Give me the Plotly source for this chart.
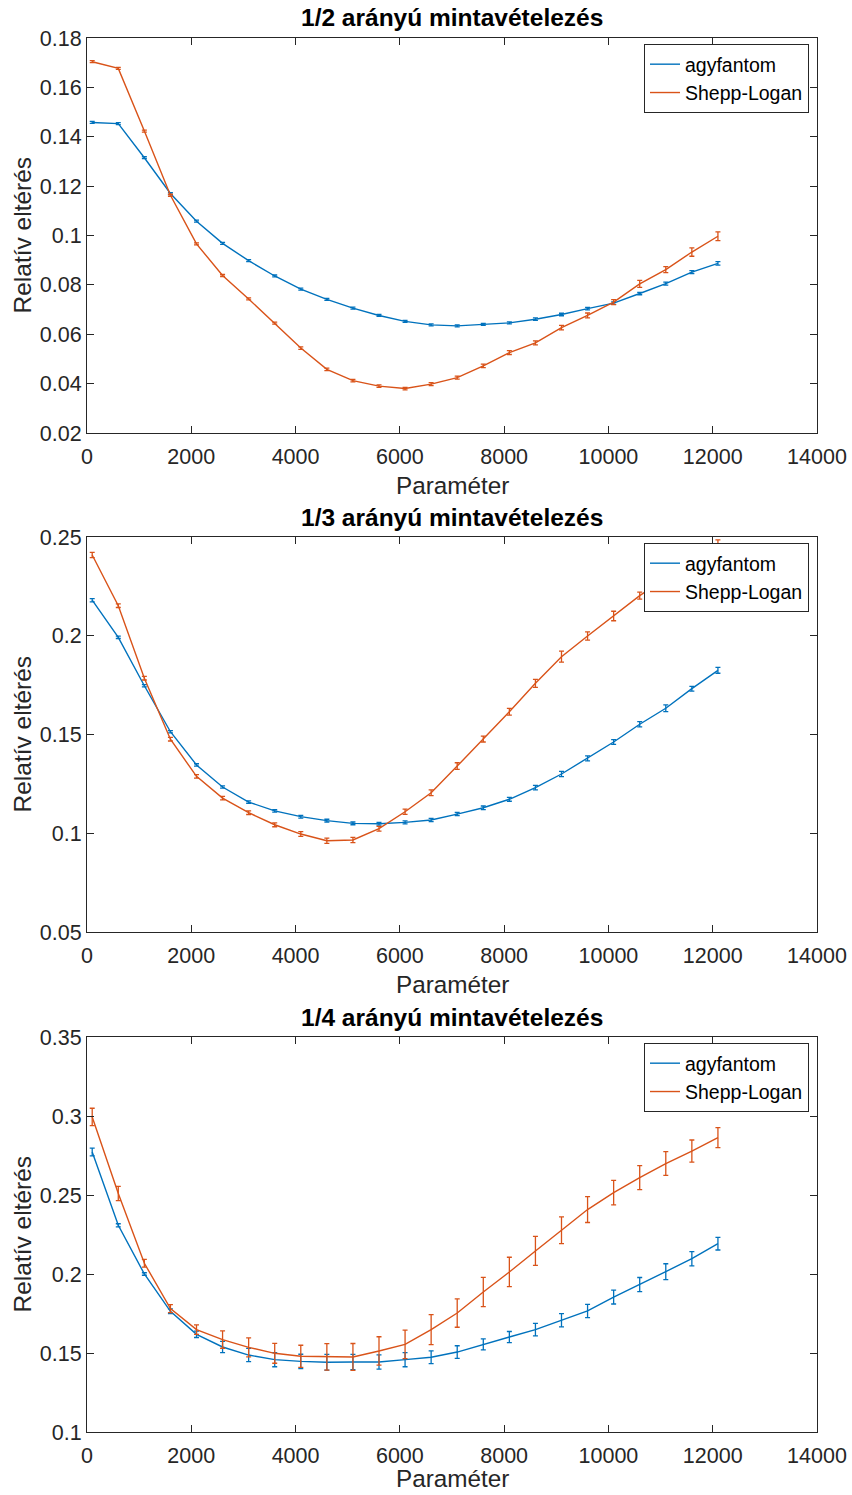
import plotly.graph_objects as go

# ---------------- data ----------------
param = [100, 600, 1100, 1600, 2100, 2600, 3100, 3600, 4100, 4600, 5100, 5600, 6100,
         6600, 7100, 7600, 8100, 8600, 9100, 9600, 10100, 10600, 11100, 11600, 12100]

# 1/2 sampling
agy_half = [0.1458, 0.1453, 0.1315, 0.1170, 0.1058, 0.0968, 0.0898, 0.0836, 0.0783, 0.0741,
            0.0706, 0.0676, 0.0652, 0.0638, 0.0634, 0.0640, 0.0646, 0.0661, 0.0680, 0.0704,
            0.0726, 0.0765, 0.0805, 0.0852, 0.0887]
agy_half_err = [0.0004, 0.0004, 0.0004, 0.0004, 0.0004, 0.0004, 0.0004, 0.0004, 0.0004, 0.0004,
                0.0004, 0.0004, 0.0004, 0.0004, 0.0004, 0.0004, 0.0004, 0.0005, 0.0005, 0.0005,
                0.0005, 0.0005, 0.0006, 0.0006, 0.0007]
shepp_half = [0.1704, 0.1677, 0.1423, 0.1163, 0.0966, 0.0838, 0.0743, 0.0645, 0.0544, 0.0458,
              0.0412, 0.0390, 0.0380, 0.0398, 0.0424, 0.0472, 0.0526, 0.0565, 0.0627, 0.0676,
              0.0730, 0.0804, 0.0862, 0.0933, 0.0997]
shepp_half_err = [0.0004, 0.0004, 0.0004, 0.0004, 0.0004, 0.0004, 0.0004, 0.0004, 0.0005, 0.0005,
                  0.0005, 0.0005, 0.0005, 0.0006, 0.0006, 0.0007, 0.0008, 0.0008, 0.0009, 0.0010,
                  0.0010, 0.0014, 0.0012, 0.0017, 0.0018]

# 1/3 sampling
agy_third = [0.2180, 0.1992, 0.1747, 0.1514, 0.1346, 0.1234, 0.1158, 0.1113, 0.1084, 0.1064,
             0.1050, 0.1048, 0.1055, 0.1067, 0.1097, 0.1129, 0.1172, 0.1231, 0.1300, 0.1379,
             0.1462, 0.1552, 0.1633, 0.1732, 0.1825]
agy_third_err = [0.0008, 0.0006, 0.0006, 0.0006, 0.0006, 0.0006, 0.0006, 0.0006, 0.0007, 0.0007,
                 0.0007, 0.0007, 0.0008, 0.0008, 0.0008, 0.0009, 0.0010, 0.0011, 0.0013, 0.0013,
                 0.0012, 0.0013, 0.0017, 0.0012, 0.0015]
shepp_third = [0.2409, 0.2152, 0.1785, 0.1476, 0.1288, 0.1178, 0.1104, 0.1043, 0.0996, 0.0962,
               0.0966, 0.1023, 0.1109, 0.1205, 0.1340, 0.1477, 0.1615, 0.1759, 0.1894, 0.1999,
               0.2100, 0.2203, 0.2292, 0.2380, 0.2465]
shepp_third_err = [0.0013, 0.0009, 0.0009, 0.0009, 0.0009, 0.0009, 0.0009, 0.0010, 0.0012, 0.0013,
                   0.0013, 0.0012, 0.0013, 0.0015, 0.0017, 0.0015, 0.0017, 0.0020, 0.0028, 0.0021,
                   0.0024, 0.0018, 0.0020, 0.0020, 0.0020]

# 1/4 sampling
agy_quarter = [0.2772, 0.2308, 0.2000, 0.1764, 0.1618, 0.1538, 0.1487, 0.1458, 0.1447, 0.1441,
               0.1443, 0.1443, 0.1458, 0.1473, 0.1506, 0.1555, 0.1601, 0.1648, 0.1707, 0.1766,
               0.1854, 0.1933, 0.2015, 0.2097, 0.2192]
agy_quarter_err = [0.0025, 0.0010, 0.0008, 0.0015, 0.0020, 0.0035, 0.0042, 0.0045, 0.0045, 0.0050,
                   0.0048, 0.0045, 0.0045, 0.0040, 0.0040, 0.0035, 0.0035, 0.0040, 0.0042, 0.0042,
                   0.0044, 0.0045, 0.0050, 0.0045, 0.0040]
shepp_quarter = [0.2994, 0.2509, 0.2068, 0.1781, 0.1648, 0.1585, 0.1536, 0.1498, 0.1479, 0.1475,
                 0.1475, 0.1513, 0.1555, 0.1648, 0.1753, 0.1886, 0.2013, 0.2146, 0.2277, 0.2408,
                 0.2515, 0.2610, 0.2699, 0.2778, 0.2863]
shepp_quarter_err = [0.0055, 0.0045, 0.0025, 0.0025, 0.0030, 0.0055, 0.0060, 0.0063, 0.0070, 0.0084,
                     0.0085, 0.0090, 0.0090, 0.0095, 0.0090, 0.0093, 0.0093, 0.0092, 0.0085, 0.0082,
                     0.0077, 0.0076, 0.0075, 0.0070, 0.0063]

titles = ["1/2 arányú mintavételezés", "1/3 arányú mintavételezés", "1/4 arányú mintavételezés"]
series_names = ["agyfantom", "Shepp-Logan"]
y_ranges = [[0.02, 0.18], [0.05, 0.25], [0.1, 0.35]]
y_dticks = [0.02, 0.05, 0.05]
x_label = "Paraméter"
y_label = "Relatív eltérés"

panels = [
    (agy_half, agy_half_err, shepp_half, shepp_half_err),
    (agy_third, agy_third_err, shepp_third, shepp_third_err),
    (agy_quarter, agy_quarter_err, shepp_quarter, shepp_quarter_err),
]

# ---------------- layout geometry ----------------
W, H = 852, 1495
BLUE = "#0072BD"
ORANGE = "#D95319"
AX = "#262626"
FONT = "Liberation Sans, Arial, Helvetica, sans-serif"

x_left, x_right = 87, 817
tops = [38, 537, 1037]
bottoms = [433, 932, 1432]
xlabel_centers = [485, 984, 1478]

fig = go.Figure()
annotations = []

for i, (a, ae, s, se) in enumerate(panels):
    n = "" if i == 0 else str(i + 1)
    xa, ya = "x" + n, "y" + n
    leg = "legend" + n
    for vals, errs, color, name in [(a, ae, BLUE, series_names[0]), (s, se, ORANGE, series_names[1])]:
        fig.add_trace(go.Scatter(
            x=param, y=vals, mode="lines", name=name,
            line=dict(color=color, width=1.4),
            error_y=dict(type="data", array=errs, visible=True, color=color,
                         thickness=1.3, width=2.5),
            xaxis=xa, yaxis=ya, legend=leg, cliponaxis=True,
        ))
    dom_y = [1 - bottoms[i] / H, 1 - tops[i] / H]
    axis_common = dict(showline=True, linecolor=AX, linewidth=1, mirror="ticks",
                       ticks="inside", ticklen=7, tickwidth=1, tickcolor=AX,
                       showgrid=False, zeroline=False, automargin=False,
                       tickfont=dict(family=FONT, size=21.5, color=AX))
    fig.update_layout(**{
        ("xaxis" + n): dict(domain=[x_left / W, x_right / W], range=[0, 14000],
                            tick0=0, dtick=2000, tickformat="d", anchor=ya,
                            ticklabelstandoff=4, **axis_common),
        ("yaxis" + n): dict(domain=dom_y, range=y_ranges[i], tick0=y_ranges[i][0],
                            dtick=y_dticks[i], anchor=xa, **axis_common),
        leg: dict(x=809 / W, y=1 - (tops[i] + 6) / H, xanchor="right", yanchor="top",
                  xref="paper", yref="paper",
                  bgcolor="white", bordercolor=AX, borderwidth=1,
                  font=dict(family=FONT, size=19.5, color="black"),
                  itemwidth=30, tracegroupgap=0),
    })
    # title
    annotations.append(dict(text="<b>" + titles[i] + "</b>", x=(x_left + x_right) / 2 / W,
                            y=1 - (tops[i] - 20) / H, xref="paper", yref="paper",
                            xanchor="center", yanchor="middle", showarrow=False,
                            font=dict(family=FONT, size=24.5, color="black")))
    # x label
    annotations.append(dict(text=x_label, x=(x_left + x_right) / 2 / W,
                            y=1 - xlabel_centers[i] / H, xref="paper", yref="paper",
                            xanchor="center", yanchor="middle", showarrow=False,
                            font=dict(family=FONT, size=24.3, color=AX)))
    # y label
    annotations.append(dict(text=y_label, x=22 / W,
                            y=1 - (tops[i] + bottoms[i]) / 2 / H, xref="paper", yref="paper",
                            xanchor="center", yanchor="middle", showarrow=False, textangle=-90,
                            font=dict(family=FONT, size=24.5, color=AX)))

fig.update_layout(width=W, height=H, margin=dict(l=0, r=0, t=0, b=0, autoexpand=False),
                  paper_bgcolor="white", plot_bgcolor="white",
                  showlegend=True, annotations=annotations)

fig.write_html("out.html")
